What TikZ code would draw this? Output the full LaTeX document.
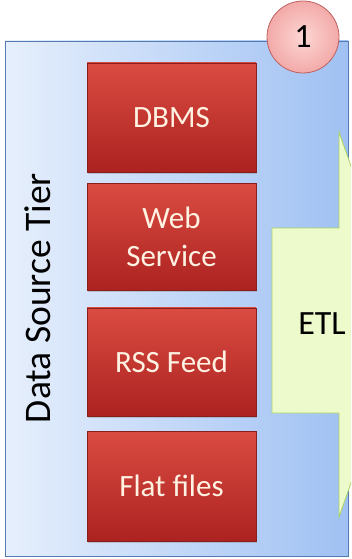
\documentclass[tikz,border=0pt]{standalone}
\usepackage{fontspec}
\setmainfont{Carlito}
\usetikzlibrary{positioning,shadows}
\definecolor{tierleft}{RGB}{230,239,252}
\definecolor{tierright}{RGB}{160,193,243}
\definecolor{tieredge}{RGB}{84,122,178}
\definecolor{boxtop}{RGB}{218,76,66}
\definecolor{boxbottom}{RGB}{172,34,32}
\definecolor{boxedge}{RGB}{138,30,28}
\definecolor{boxtext}{RGB}{255,242,226}
\definecolor{etlfill}{RGB}{236,250,204}
\definecolor{etledge}{RGB}{168,212,96}
\definecolor{badgein}{RGB}{253,214,212}
\definecolor{badgeout}{RGB}{242,170,168}
\definecolor{badgeedge}{RGB}{190,96,96}

\begin{document}
\begin{tikzpicture}[
  x=1pt, y=-1pt,
  source/.style={draw=boxedge, top color=boxtop, bottom color=boxbottom,
    minimum width=169pt, minimum height=108pt, text=boxtext, align=center,
    font=\fontsize{31}{38}\selectfont, drop shadow={opacity=0.35, shadow xshift=1pt, shadow yshift=-2pt}},
  tier/.style={draw=tieredge, thick, left color=tierleft, right color=tierright},
  badge/.style={circle, draw=badgeedge, thick, inner color=badgein, outer color=badgeout,
    minimum size=72pt, font=\fontsize{34}{40}\selectfont},
]
  \useasboundingbox (0,0) rectangle (351,559);
  \clip (0,0) rectangle (351,559);

  % tier background
  \node[tier, minimum width=343pt, minimum height=515pt] (tier) at (176.5,298.5) {};
  \node[rotate=90, font=\fontsize{37.5}{44}\selectfont] (tiername) at (38,298) {Data Source Tier};

  % sources
  \node[source, minimum height=109pt] (dbms) at (171.5,117.5) {DBMS};
  \node[source, minimum height=107pt, below=11pt of dbms] (websvc) {Web\\Service};
  \node[source, below=17pt of websvc] (rss) {RSS Feed};
  \node[source, minimum height=110pt, below=15pt of rss] (flat) {Flat files};

  % ETL arrow
  \draw[etledge, thick, fill=etlfill]
    (272,228) -- (339,228) -- (339,132) -- (407,324.5)
    -- (339,517) -- (339,413) -- (272,413) -- cycle;
  \node[font=\fontsize{34}{40}\selectfont] (etl) at (322,324) {ETL};

  % tier number
  \node[badge] (num) at (303,37) {1};
\end{tikzpicture}
\end{document}
